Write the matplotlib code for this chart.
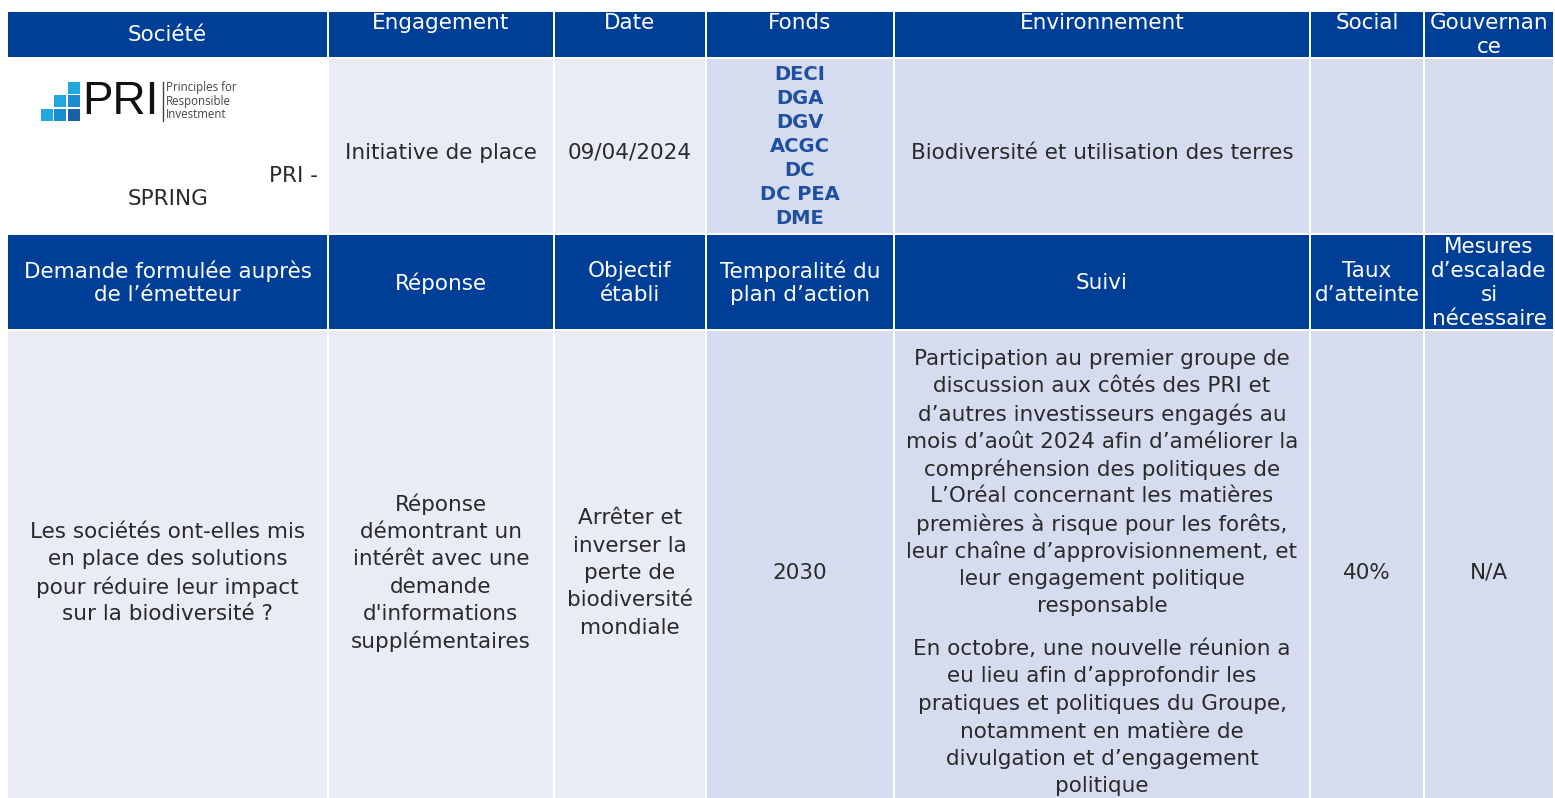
import matplotlib
matplotlib.use("Agg")
import matplotlib.pyplot as plt
from matplotlib.patches import Rectangle

# ---- table content ----
header_top = ["Société", "Engagement", "Date", "Fonds", "Environnement", "Social", "Gouvernan\nce"]
header_bottom = ["Demande formulée auprès\nde l’émetteur", "Réponse", "Objectif\nétabli",
                 "Temporalité du\nplan d’action", "Suivi", "Taux\nd’atteinte",
                 "Mesures\nd’escalade\nsi\nnécessaire"]
engagement = "Initiative de place"
date = "09/04/2024"
fonds = ["DECI", "DGA", "DGV", "ACGC", "DC", "DC PEA", "DME"]
environnement = "Biodiversité et utilisation des terres"
demande = "Les sociétés ont-elles mis\nen place des solutions\npour réduire leur impact\nsur la biodiversité ?"
reponse = "Réponse\ndémontrant un\nintérêt avec une\ndemande\nd'informations\nsupplémentaires"
objectif = "Arrêter et\ninverser la\nperte de\nbiodiversité\nmondiale"
temporalite = "2030"
suivi_1 = ("Participation au premier groupe de\ndiscussion aux côtés des PRI et\n"
           "d’autres investisseurs engagés au\nmois d’août 2024 afin d’améliorer la\n"
           "compréhension des politiques de\nL’Oréal concernant les matières\n"
           "premières à risque pour les forêts,\nleur chaîne d’approvisionnement, et\n"
           "leur engagement politique\nresponsable")
suivi_2 = ("En octobre, une nouvelle réunion a\neu lieu afin d’approfondir les\n"
           "pratiques et politiques du Groupe,\nnotamment en matière de\n"
           "divulgation et d’engagement\npolitique")
taux = "40%"
mesures = "N/A"

# ---- layout (pixel coords) ----
col_edges = [7, 328, 554, 706, 894, 1310, 1424, 1554]
row_edges = [11, 58, 233.5, 330, 805]
GAP = 2

NAVY = "#003f97"
LIGHT = "#e9ebf6"
DARK = "#d6dcef"
TXT = "#2a2a2a"
FONT = "DejaVu Sans"
FS = 15.5

fig = plt.figure(figsize=(15.55, 7.98), dpi=100)
ax = fig.add_axes([0, 0, 1, 1])
ax.set_xlim(0, 1555)
ax.set_ylim(798, 0)
ax.axis("off")


def cell(c, r, color):
    x0 = col_edges[c] + GAP / 2
    x1 = col_edges[c + 1] - GAP / 2
    y0 = row_edges[r] + GAP / 2
    y1 = row_edges[r + 1] - GAP / 2
    ax.add_patch(Rectangle((x0, y0), x1 - x0, y1 - y0, facecolor=color, edgecolor="none"))


def cx(c):
    return (col_edges[c] + col_edges[c + 1]) / 2


def lines(x, y_center, text, pitch, color=TXT, fs=FS, family=FONT, weight="normal"):
    parts = text.split("\n")
    n = len(parts)
    for i, p in enumerate(parts):
        y = y_center + (i - (n - 1) / 2) * pitch
        ax.text(x, y, p, ha="center", va="center", fontsize=fs, color=color,
                family=family, fontweight=weight)


# backgrounds
row1_colors = ["white", LIGHT, LIGHT, DARK, DARK, DARK, DARK]
row2_colors = [LIGHT, LIGHT, LIGHT, DARK, DARK, DARK, DARK]
for c in range(7):
    cell(c, 0, NAVY)
    cell(c, 1, row1_colors[c])
    cell(c, 2, NAVY)
    cell(c, 3, row2_colors[c])

# header rows
HP = 23.7
for c, h in enumerate(header_top):
    if c == 0:
        lines(cx(c), 35, h, HP, color="white")
    else:
        n = len(h.split("\n"))
        lines(cx(c), 23 + (n - 1) * HP / 2, h, HP, color="white")
for c, h in enumerate(header_bottom):
    lines(cx(c), 283, h, HP, color="white")

# row 1
lines(cx(1), 153, engagement, 27.5)
lines(cx(2), 153, date, 27.5)
lines(cx(3), 146, "\n".join(fonds), 24, color="#1f4fa0", weight="bold", family="DejaVu Sans", fs=14)
lines(cx(4), 153, environnement, 27.5)
ax.text(318, 176, "PRI -", ha="right", va="center", fontsize=FS, color=TXT, family=FONT)
ax.text(168, 199, "SPRING", ha="center", va="center", fontsize=FS, color=TXT, family=FONT)

# PRI logo
sq_light, sq_mid, sq_dark = "#22a8e0", "#1b8cce", "#1d5ea6"
logo_cells = [(0, 2, sq_light), (1, 1, sq_light), (1, 2, sq_mid),
              (2, 0, sq_light), (2, 1, sq_mid), (2, 2, sq_dark)]
for i, j, col in logo_cells:
    ax.add_patch(Rectangle((41 + i * 13.3, 82 + j * 13.3), 12, 12, facecolor=col, edgecolor="none"))
ax.text(82, 102, "PRI", ha="left", va="center", fontsize=33, color="#111111", family="Liberation Sans")
ax.plot([163, 163], [82, 121], color="#444444", lw=1)
for k, s in enumerate(["Principles for", "Responsible", "Investment"]):
    ax.text(166, 88 + k * 13.5, s, ha="left", va="center", fontsize=8.3, color="#444444", family="Open Sans")

# row 2
BP = 27.5
lines(cx(0), 573, demande, BP)
lines(cx(1), 573, reponse, BP)
lines(cx(2), 573, objectif, BP)
lines(cx(3), 573, temporalite, BP)
lines(cx(4), 359 + 9 * BP / 2, suivi_1, BP)
lines(cx(4), 649 + 5 * BP / 2, suivi_2, BP)
lines(cx(5), 573, taux, BP)
lines(cx(6), 573, mesures, BP)

fig.savefig("out.png", dpi=100, facecolor="white")
